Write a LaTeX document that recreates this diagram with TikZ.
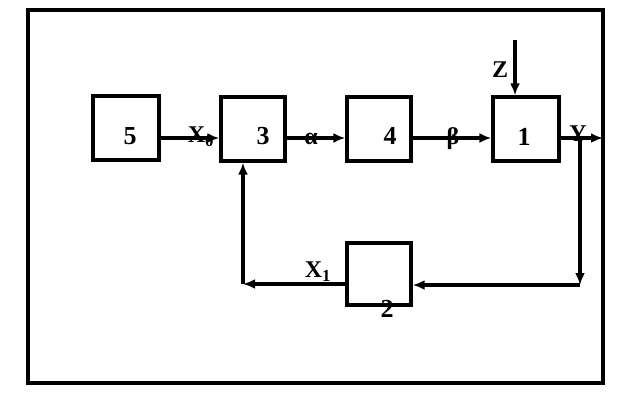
\documentclass[tikz,border=0pt]{standalone}
\usepackage{fontspec}
\setmainfont{Liberation Serif}
\usetikzlibrary{arrows.meta}
\begin{document}
\begin{tikzpicture}[x=1pt,y=-1pt,
  blk/.style={draw,line width=3.4pt,minimum width=64pt,minimum height=64pt,inner sep=0pt},
  lbl/.style={font=\fontsize{26}{26}\selectfont\bfseries,inner sep=0pt},
  sig/.style={font=\fontsize{24}{24}\selectfont\bfseries,inner sep=0pt},
  con/.style={line width=3.2pt},
  arr/.style={con,-{Latex[length=12pt,width=10pt]}}]
\useasboundingbox (0,0) rectangle (620,402);
\draw[line width=3.8pt] (28,10) rectangle (603,383);
% blocks
\node[blk,minimum width=66pt] (b5) at (126,128) {};
\node[blk] (b3) at (253,129) {};
\node[blk] (b4) at (379,129) {};
\node[blk,minimum width=66pt] (b1) at (526,129) {};
\node[blk,minimum height=62pt] (b2) at (379,274) {};
\node[lbl] (t5) at (130,136) {5};
\node[lbl] (t3) at (263,136) {3};
\node[lbl] (t4) at (390,136) {4};
\node[lbl] (t1) at (524,137) {1};
\node[lbl] (t2) at (387,309) {2};
% main line
\coordinate (main) at (0,138);
\draw[arr] (b5.east |- main) -- (b3.west |- main);
\draw[arr] (b3.east |- main) -- (b4.west |- main);
\draw[arr] (b4.east |- main) -- (b1.west |- main);
\coordinate (yout) at (603,138);
\draw[arr] (b1.east |- main) -- (yout);
\node[sig] (x0) at (201,137) {X\textsubscript{0}};
\node[sig] (al) at (311,139) {α};
\node[sig] (be) at (453,139) {β};
\node[sig] (y) at (578,134) {Y};
% Z input
\coordinate (ztop) at (515,40);
\draw[arr] (ztop) -- (b1.north -| ztop);
\node[sig] (z) at (500,70) {Z};
% feedback
\coordinate (yj) at (580,138);
\coordinate (yc) at (580,285);
\coordinate (fl) at (243,284);
\draw[arr] (yj) -- (yc);
\draw[arr] (yc) -- (b2.east |- yc);
\draw[arr] (b2.west |- fl) -- (fl);
\draw[arr] (fl) -- (b3.south -| fl);
\node[sig] (x1) at (318,272) {X\textsubscript{1}};
\end{tikzpicture}
\end{document}
